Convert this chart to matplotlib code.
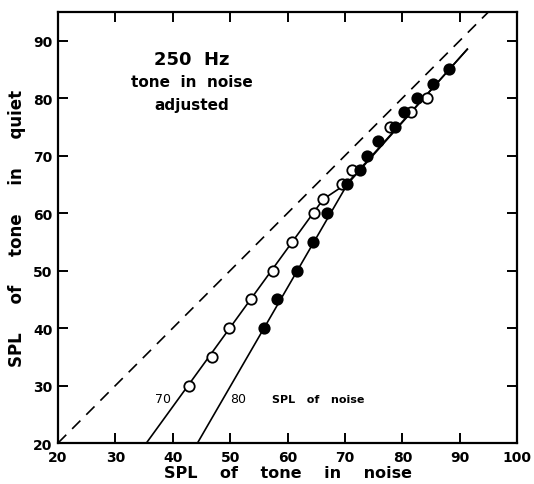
import matplotlib
matplotlib.use("Agg")
import matplotlib.pyplot as plt

# ---- data ----
# open circles: noise at 70 dB SPL
open_x = [42.8, 46.8, 49.8, 53.7, 57.5, 60.7, 64.6, 66.2, 69.5, 71.2, 77.8, 81.5, 84.2]
open_y = [30.0, 35.0, 40.0, 45.0, 50.0, 55.0, 60.0, 62.5, 65.0, 67.5, 75.0, 77.5, 80.0]
# filled circles: noise at 80 dB SPL
fill_x = [55.8, 58.1, 61.6, 64.4, 66.8, 70.4, 72.6, 73.8, 75.8, 78.7, 80.3, 82.5, 85.4, 88.2]
fill_y = [40.0, 45.0, 50.0, 55.0, 60.0, 65.0, 67.5, 70.0, 72.5, 75.0, 77.5, 80.0, 82.5, 85.0]
# fitted curves
fit70_x = [35.4, 66.2, 70.4, 91.3]
fit70_y = [20.0, 62.4, 65.2, 88.5]
fit80_x = [44.3, 70.4, 91.3]
fit80_y = [20.0, 65.0, 88.5]
# equality line
eq_x = [20, 95]
eq_y = [20, 95]

xticks = [20, 30, 40, 50, 60, 70, 80, 90, 100]
yticks = [20, 30, 40, 50, 60, 70, 80, 90]

plt.rcParams['font.family'] = ['DejaVu Sans']

fig = plt.figure(figsize=(5.34, 4.85), dpi=100)
ax = fig.add_axes([0.1086, 0.0845, 0.860, 0.889])

ax.plot(eq_x, eq_y, color='black', lw=1.2, dashes=(7, 5))
ax.plot(fit70_x, fit70_y, color='black', lw=1.2)
ax.plot(fit80_x, fit80_y, color='black', lw=1.2)
ax.plot(open_x, open_y, 'o', ms=7.5, mfc='white', mec='black', mew=1.3, zorder=3)
ax.plot(fill_x, fill_y, 'o', ms=7.5, mfc='black', mec='black', mew=1.3, zorder=4)

ax.set_xlim(20, 100)
ax.set_ylim(20, 95)
ax.set_xticks(xticks)
ax.set_yticks(yticks)
ax.set_xticklabels([str(t) for t in xticks], fontsize=10, fontweight='bold')
ax.set_yticklabels([str(t) for t in yticks], fontsize=10, fontweight='bold')
ax.tick_params(direction='in', length=7, width=1.4, top=True, right=True)
ax.tick_params(axis='x', pad=5)
ax.tick_params(axis='y', pad=4)
for s in ax.spines.values():
    s.set_linewidth(1.6)

ax.set_xlabel('SPL    of    tone    in    noise', fontsize=11.5, fontweight='bold', labelpad=1)
ax.set_ylabel('SPL     of     tone     in     quiet', fontsize=12, fontweight='bold', labelpad=5)

ax.text(43.3, 86.8, '250  Hz', ha='center', va='center', fontsize=13, fontweight='bold')
ax.text(43.3, 82.8, 'tone  in  noise', ha='center', va='center', fontsize=11, fontweight='bold')
ax.text(43.3, 78.8, 'adjusted', ha='center', va='center', fontsize=11, fontweight='bold')

ax.text(38.3, 27.7, '70', ha='center', va='center', fontsize=9)
ax.text(51.4, 27.7, '80', ha='center', va='center', fontsize=9)
ax.text(57.2, 27.7, 'SPL   of   noise', ha='left', va='center', fontsize=8, fontweight='bold')

fig.savefig('out.png', dpi=100)
